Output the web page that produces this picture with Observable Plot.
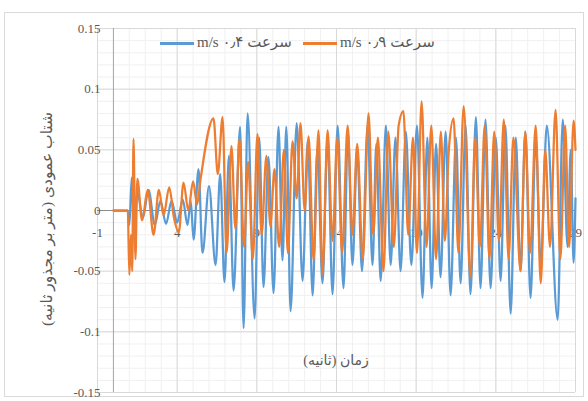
<!DOCTYPE html>
<html>
<head>
<meta charset="utf-8">
<script src="https://cdn.jsdelivr.net/npm/d3@7"></script>
<script src="https://cdn.jsdelivr.net/npm/@observablehq/plot@0.6"></script>
<style>
  html, body { margin: 0; padding: 0; background: #ffffff; }
  #wrap { position: relative; width: 588px; height: 401px; overflow: hidden; font-family: "Liberation Serif", "DejaVu Serif", "DejaVu Sans", serif; }
  #frame { position: absolute; left: 4px; top: 12px; width: 580px; height: 385px; border: 1px solid #d9d9d9; box-sizing: border-box; }
  #chart { position: absolute; left: 0; top: 0; }
  .leg { position: absolute; top: 33px; font-size: 15px; color: #595959; white-space: nowrap; direction: rtl; unicode-bidi: plaintext; }
  .sw { position: absolute; top: 42px; height: 2.5px; width: 34px; }
  #ytitle { position: absolute; left: 47px; top: 219px; transform: translate(-50%, -50%) rotate(-90deg); font-size: 15.5px; color: #595959; white-space: nowrap; direction: rtl; }
  #xtitle { position: absolute; left: 336px; top: 360px; transform: translate(-50%, -50%); font-size: 14px; color: #595959; white-space: nowrap; direction: rtl; }
</style>
</head>
<body>
<div id="wrap">
  <div id="frame"></div>
  <div id="chart"></div>
  <div class="sw" style="left:160px;background:#5B9BD5"></div>
  <div class="leg" id="leg1" style="left:197px;"></div>
  <div class="sw" style="left:303px;background:#ED7D31"></div>
  <div class="leg" id="leg2" style="left:340px;"></div>
  <div id="ytitle"></div>
  <div id="xtitle"></div>
</div>
<script>
// ---- labels ----
const seriesNames = ["سرعت ۰٫۴ m/s", "سرعت ۰٫۹ m/s"];
const yTitle = "شتاب عمودی (متر بر مجذور ثانیه)";
const xTitle = "زمان (ثانیه)";
const xTicks = [-1, 4, 9, 14, 19, 24, 29];
const xTickLabels = ["-1", "4", "9", "14", "19", "24", "29"];
const yTicks = [-0.15, -0.1, -0.05, 0, 0.05, 0.1, 0.15];
const yTickLabels = ["-0.15", "-0.1", "-0.05", "0", "0.05", "0.1", "0.15"];

// ---- series: 0.4 m/s (blue), time (s) and vertical acceleration ----
const tBlue = [0, 0.9, 1.0, 1.15, 1.3, 1.5, 1.85, 2.2, 2.6, 2.95, 3.3, 3.65, 4.0, 4.35, 4.65, 4.85,
  5.03, 5.34, 5.59, 6.0, 6.41, 6.7, 6.97, 7.25, 7.54, 7.95, 8.17, 8.42, 8.86, 9.15, 9.42, 9.73, 10.05, 10.36, 10.61, 10.85,
  11.12, 11.5, 11.87, 12.2, 12.5, 12.8, 13.12, 13.44, 13.75, 14.07, 14.44, 14.72, 15.0, 15.3, 15.6, 15.95, 16.26, 16.5, 16.77, 17.1,
  17.4, 17.7, 18.02, 18.35, 18.7, 19.05, 19.4, 19.7, 19.97, 20.25, 20.53, 20.85, 21.16, 21.5, 21.79, 22.1, 22.41, 22.75, 23.04, 23.35,
  23.67, 24.0, 24.3, 24.6, 24.93, 25.25, 25.55, 25.85, 26.18, 26.5, 26.82, 27.2, 27.88, 28.2, 28.5, 28.7, 28.88, 29.0];
const vBlue = [0, 0, -0.012, 0.027, -0.02, 0.015, -0.006, 0.017, -0.012, 0.008, -0.011, 0.008, -0.01, 0.009, -0.012, 0.008,
  -0.024, 0.034, -0.035, 0.02, -0.045, 0.03, -0.059, 0.045, -0.066, 0.069, -0.097, 0.08, -0.089, 0.06, -0.063, 0.044, -0.068, 0.069, -0.041, 0.069,
  -0.083, 0.072, -0.058, 0.058, -0.07, 0.052, -0.06, 0.06, -0.069, 0.07, -0.064, 0.065, -0.045, 0.05, -0.05, 0.07, -0.045, 0.055, -0.058, 0.07,
  -0.045, 0.06, -0.05, 0.065, -0.045, 0.07, -0.072, 0.06, -0.064, 0.055, -0.055, 0.065, -0.07, 0.06, -0.06, 0.07, -0.069, 0.077, -0.064, 0.075,
  -0.064, 0.06, -0.058, 0.07, -0.085, 0.06, -0.05, 0.065, -0.072, 0.06, -0.044, 0.07, -0.09, 0.075, -0.03, 0.05, -0.043, 0.01];

// ---- series: 0.9 m/s (orange) ----
const tOrange = [0, 0.9, 1.0, 1.1, 1.18, 1.26, 1.38, 1.5, 1.8, 2.15, 2.52, 2.85, 3.15, 3.5, 3.8, 4.1, 4.4, 4.7, 5.0, 5.25, 5.47,
  6.28, 6.55, 6.85, 7.1, 7.41, 7.65, 7.91, 8.2, 8.45, 8.75, 9.04, 9.3, 9.6, 9.85, 10.11, 10.4, 10.7, 10.95, 11.24, 11.5, 11.74, 12.0, 12.25,
  12.56, 12.87, 13.12, 13.44, 13.75, 14.05, 14.35, 14.7, 15.0, 15.3, 15.65, 16.01, 16.3, 16.6, 16.95, 17.25, 17.6, 17.9, 18.2, 18.5,
  18.8, 19.05, 19.34, 19.65, 19.95, 20.25, 20.55, 20.8, 21.05, 21.35, 21.65, 21.98, 22.41, 22.7, 23.0, 23.3, 23.6, 23.9, 24.2, 24.5,
  24.8, 25.1, 25.55, 25.85, 26.15, 26.5, 26.82, 27.1, 27.4, 27.75, 28.05, 28.35, 28.6, 28.88, 29.0];
const vOrange = [0, 0, -0.053, -0.02, -0.05, 0.059, -0.04, 0.026, -0.008, 0.017, -0.02, 0.017, -0.004, 0.019, -0.006, -0.018, 0.023, 0.0, 0.024, 0.005, 0.026,
  0.076, 0.03, 0.077, -0.035, 0.053, -0.015, 0.059, -0.03, 0.04, -0.04, 0.063, -0.02, 0.045, -0.013, 0.034, -0.03, 0.05, -0.035, 0.057, 0.01, 0.072, 0.0, 0.061,
  -0.041, 0.066, -0.052, 0.066, -0.025, 0.06, -0.035, 0.07, -0.02, 0.055, -0.04, 0.08, -0.02, 0.06, -0.05, 0.065, -0.03, 0.07, 0.082, -0.02,
  0.06, -0.035, 0.09, -0.03, 0.07, -0.04, 0.065, -0.025, 0.05, 0.076, -0.035, 0.086, -0.055, 0.06, -0.03, 0.07, -0.04, 0.065, -0.025, 0.075,
  -0.04, 0.06, -0.05, 0.065, -0.035, 0.07, -0.06, 0.05, -0.03, 0.083, -0.04, 0.07, -0.03, 0.074, 0.05];

const blue = tBlue.map((t, i) => ({t, v: vBlue[i]}));
const orange = tOrange.map((t, i) => ({t, v: vOrange[i]}));

const minorX = d3.range(-1, 29.001, 1);
const minorY = d3.range(-15, 16, 1).map(d => d / 100);

const fontFam = '"Liberation Serif", "DejaVu Serif", serif';

const plot = Plot.plot({
  width: 588,
  height: 401,
  marginLeft: 97,
  marginRight: 13,
  marginTop: 28,
  marginBottom: 9,
  x: {domain: [-1, 29], axis: null},
  y: {domain: [-0.15, 0.15], axis: null},
  style: {background: "transparent", fontFamily: fontFam},
  marks: [
    Plot.ruleX(minorX, {x: d => d, stroke: "#f0f0f0", strokeWidth: 1}),
    Plot.ruleY(minorY, {y: d => d, stroke: "#f0f0f0", strokeWidth: 1}),
    Plot.ruleX(xTicks, {x: d => d, stroke: "#d9d9d9", strokeWidth: 1}),
    Plot.ruleY(yTicks, {y: d => d, stroke: "#d9d9d9", strokeWidth: 1}),
    Plot.ruleX([0], {x: d => d, stroke: "#a6a6a6", strokeWidth: 1}),
    Plot.ruleY([0], {y: d => d, stroke: "#8c8c8c", strokeWidth: 1}),
    Plot.text(yTicks, {x: -1, y: d => d, text: (d, i) => yTickLabels[i], textAnchor: "end", dx: 3, fill: "#595959", fontSize: 13}),
    Plot.text(xTicks, {x: d => d, y: 0, text: (d, i) => xTickLabels[i], dy: 22, fill: "#595959", fontSize: 13}),
    Plot.lineY(blue, {x: "t", y: "v", stroke: "#5B9BD5", strokeWidth: 2.25, curve: "monotone-x"}),
    Plot.lineY(orange, {x: "t", y: "v", stroke: "#ED7D31", strokeWidth: 2.25, curve: "monotone-x"})
  ]
});
document.getElementById("chart").appendChild(plot);
document.getElementById("leg1").textContent = seriesNames[0];
document.getElementById("leg2").textContent = seriesNames[1];
document.getElementById("ytitle").textContent = yTitle;
document.getElementById("xtitle").textContent = xTitle;
</script>
</body>
</html>
